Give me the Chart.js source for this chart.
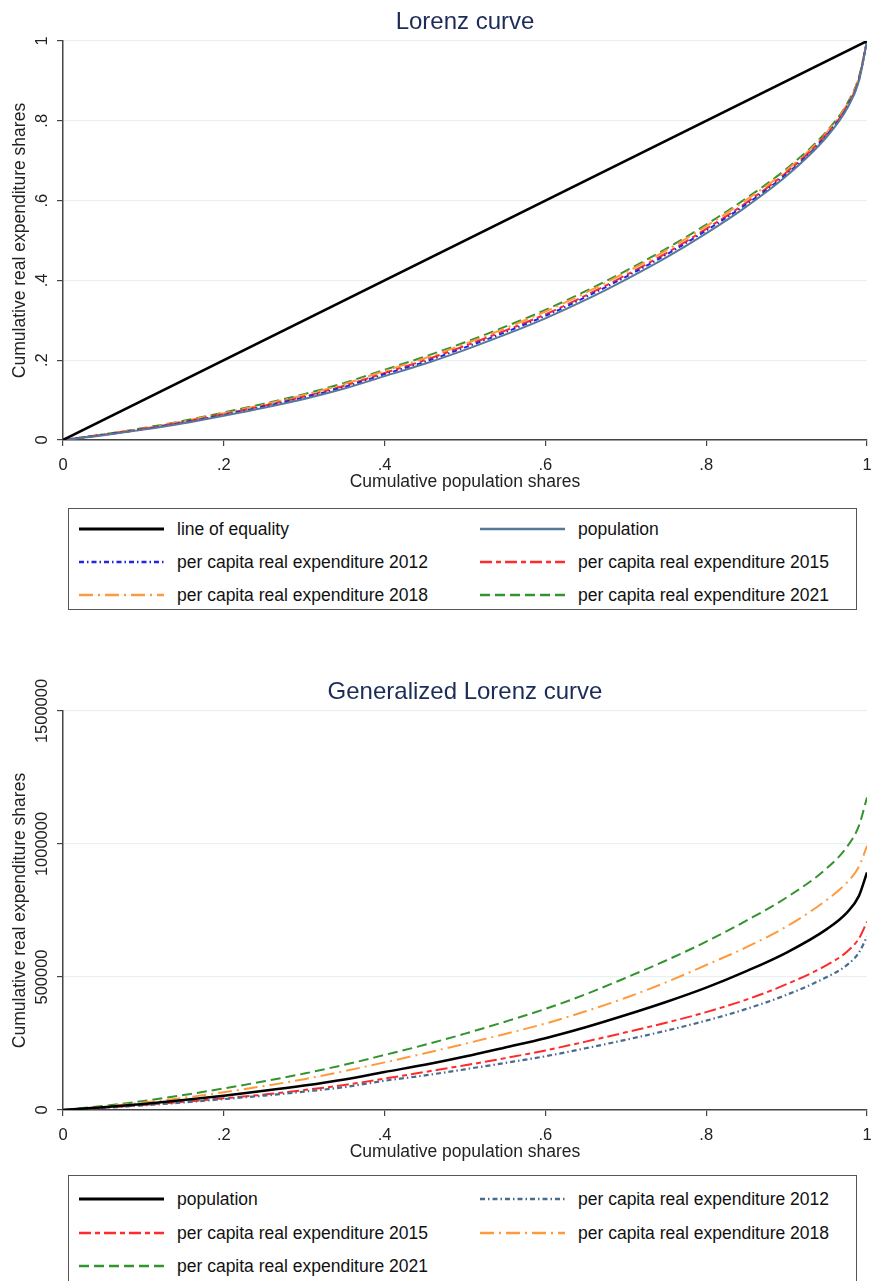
<!DOCTYPE html>
<html>
<head>
<meta charset="utf-8">
<script src="https://cdn.jsdelivr.net/npm/chart.js@4.4.1/dist/chart.umd.min.js"></script>
<style>
body { margin: 0; background: #fff; font-family: "Liberation Sans", Arial, sans-serif; }
#page { position: relative; width: 874px; height: 1281px; overflow: hidden; }
canvas { position: absolute; left: 0; }
.legend { position: absolute; left: 68px; width: 789px; box-sizing: border-box; border: 1.5px solid #555; background: #fff; }
.item { position: absolute; display: flex; align-items: center; height: 20px; font-size: 17.5px; color: #111; white-space: nowrap; }
.item svg { margin-right: 13px; }
</style>
</head>
<body>
<div id="page">
  <canvas id="lorenz" width="874" height="497" style="top:0"></canvas>
  <div class="legend" id="legend1" style="top:508px;height:102px"></div>
  <canvas id="glorenz" width="874" height="497" style="top:670px"></canvas>
  <div class="legend" id="legend2" style="top:1175px;height:120px"></div>
</div>
<script>
// cumulative population shares (x)
const shares = [0, .05, .1, .15, .2, .25, .3, .35, .4, .45, .5, .55, .6, .65, .7, .75, .8, .85, .9, .95, .975, .99, 1];

// Lorenz curve (shares of total)
const equalityX = [0, 1];
const equalityY = [0, 1];
const lzPopulation = [0, .012, .026, .042, .061, .081, .103, .129, .160, .191, .226, .264, .305, .351, .402, .457, .518, .585, .662, .760, .830, .900, 1];
const lz2012 = [0, .013, .027, .044, .063, .084, .107, .133, .165, .196, .232, .270, .311, .358, .409, .464, .525, .591, .667, .764, .834, .903, 1];
const lz2015 = [0, .013, .028, .045, .065, .086, .109, .136, .168, .200, .236, .274, .315, .362, .413, .468, .529, .595, .671, .767, .836, .905, 1];
const lz2018 = [0, .014, .029, .047, .067, .089, .113, .140, .173, .205, .241, .280, .322, .369, .420, .475, .536, .602, .676, .771, .840, .908, 1];
const lz2021 = [0, .014, .030, .048, .069, .091, .115, .143, .176, .209, .245, .284, .326, .373, .424, .479, .540, .606, .680, .774, .842, .910, 1];

// Generalized Lorenz curve
const glPopulation = [0, 10500, 23000, 37500, 54000, 72000, 92000, 115000, 143000, 170000, 201000, 235000, 270000, 311000, 357000, 406000, 460000, 522000, 592000, 680000, 742000, 805000, 893000];
const gl2012 = [0, 7800, 17500, 28500, 41000, 54000, 69000, 86000, 110000, 130000, 153000, 177000, 202000, 232000, 264000, 298000, 336000, 380000, 433000, 500000, 545000, 592000, 652000];
const gl2015 = [0, 8500, 19000, 31000, 44000, 58000, 75000, 94000, 118000, 143000, 168000, 195000, 224000, 257000, 292000, 328000, 368000, 415000, 473000, 545000, 595000, 645000, 708000];
const gl2018 = [0, 12500, 28000, 46000, 67000, 90000, 116000, 146000, 179000, 213000, 249000, 286000, 325000, 371000, 422000, 480000, 545000, 612000, 690000, 790000, 855000, 915000, 993000];
const gl2021 = [0, 15000, 34000, 56000, 81000, 108000, 137000, 170000, 207000, 245000, 287000, 332000, 380000, 435000, 497000, 562000, 633000, 712000, 799000, 909000, 989000, 1069000, 1175000];

// ticks
const xTicks = [0, .2, .4, .6, .8, 1];
const xTickLabels = ['0', '.2', '.4', '.6', '.8', '1'];
const lzTicks = [0, .2, .4, .6, .8, 1];
const lzTickLabels = ['0', '.2', '.4', '.6', '.8', '1'];
const glTicks = [0, 500000, 1000000, 1500000];
const glTickLabels = ['0', '500000', '1000000', '1500000'];

const FONT = '"Liberation Sans", Arial, sans-serif';
const AXIS = '#444';

const pts = (xs, ys) => ys.map((y, i) => ({ x: xs[i], y: y }));

function line(label, xs, ys, color, dash, width) {
    return {
        label: label,
        data: pts(xs, ys),
        borderColor: color,
        borderDash: dash || [],
        borderWidth: width || 2,
        pointRadius: 0,
        fill: false,
        cubicInterpolationMode: 'monotone'
    };
}

// stata draws y labels turned on their side
const sideTicks = {
    id: 'sideTicks',
    afterDraw(chart, args, opts) {
        const scale = chart.scales.y;
        const ctx = chart.ctx;
        ctx.save();
        ctx.font = '16.5px ' + FONT;
        ctx.fillStyle = '#222';
        ctx.textAlign = 'center';
        ctx.textBaseline = 'middle';
        opts.values.forEach((v, i) => {
            ctx.save();
            ctx.translate(opts.x, scale.getPixelForValue(v));
            ctx.rotate(-Math.PI / 2);
            ctx.fillText(opts.labels[i], 0, 0);
            ctx.restore();
        });
        ctx.restore();
    }
};

function options(title, yMax, yTicks, yLabels) {
    return {
        responsive: false,
        animation: false,
        layout: { padding: { left: 0, right: 7, top: 0, bottom: 0 } },
        plugins: {
            legend: { display: false },
            tooltip: { enabled: false },
            title: {
                display: true,
                fullSize: false,
                text: title,
                color: '#1c2b58',
                font: { family: FONT, size: 24, weight: 'normal', lineHeight: 1 },
                padding: { top: 10, bottom: 7 }
            },
            sideTicks: { values: yTicks, labels: yLabels, x: 42 }
        },
        scales: {
            x: {
                type: 'linear',
                min: 0,
                max: 1,
                afterBuildTicks: s => { s.ticks = xTicks.map(v => ({ value: v })); },
                afterFit: s => {
                    s.height = 57;
                    s.paddingLeft = 0;
                    s.paddingRight = 0;
                },
                ticks: {
                    color: '#222',
                    padding: 10,
                    maxRotation: 0,
                    font: { family: FONT, size: 16.5 },
                    callback: (v, i) => xTickLabels[i]
                },
                grid: { drawOnChartArea: false, tickColor: AXIS, tickLength: 6, lineWidth: 1.2 },
                border: { color: AXIS, width: 1.5 },
                title: {
                    display: true,
                    text: 'Cumulative population shares',
                    color: '#222',
                    font: { family: FONT, size: 17.5 },
                    padding: { top: 1, bottom: 4 }
                }
            },
            y: {
                type: 'linear',
                min: 0,
                max: yMax,
                afterBuildTicks: s => { s.ticks = yTicks.map(v => ({ value: v })); },
                afterFit: s => { s.width = 63; },
                ticks: { display: false },
                grid: { color: '#eaf1f3', tickColor: AXIS, tickLength: 6, lineWidth: 1.2 },
                border: { color: AXIS, width: 1.5 },
                title: {
                    display: true,
                    text: 'Cumulative real expenditure shares',
                    color: '#222',
                    font: { family: FONT, size: 17.5 },
                    padding: { top: 10, bottom: 0 }
                }
            }
        }
    };
}

const lorenz = new Chart(document.getElementById('lorenz'), {
    type: 'line',
    data: {
        datasets: [
            line('line of equality', equalityX, equalityY, '#000000', [], 2.5),
            line('population', shares, lzPopulation, '#56799a', [], 2),
            line('per capita real expenditure 2012', shares, lz2012, '#2424e6', [5, 3, 1.5, 3], 2),
            line('per capita real expenditure 2015', shares, lz2015, '#ff2a2a', [12, 4, 5, 4], 2),
            line('per capita real expenditure 2018', shares, lz2018, '#ff9a3c', [14, 5, 2, 5], 2),
            line('per capita real expenditure 2021', shares, lz2021, '#33932f', [10, 5], 2)
        ]
    },
    options: options('Lorenz curve', 1, lzTicks, lzTickLabels),
    plugins: [sideTicks]
});

const glorenz = new Chart(document.getElementById('glorenz'), {
    type: 'line',
    data: {
        datasets: [
            line('population', shares, glPopulation, '#000000', [], 2.5),
            line('per capita real expenditure 2012', shares, gl2012, '#4a6c8c', [5, 3, 1.5, 3], 2.2),
            line('per capita real expenditure 2015', shares, gl2015, '#ff2a2a', [12, 4, 5, 4], 2),
            line('per capita real expenditure 2018', shares, gl2018, '#ff9a3c', [14, 5, 2, 5], 2),
            line('per capita real expenditure 2021', shares, gl2021, '#33932f', [10, 5], 2)
        ]
    },
    options: options('Generalized Lorenz curve', 1500000, glTicks, glTickLabels),
    plugins: [sideTicks]
});

// boxed two-column legend under each chart
function buildLegend(chart, el, rowTops) {
    chart.data.datasets.forEach((ds, i) => {
        const item = document.createElement('div');
        item.className = 'item';
        item.style.left = (i % 2 ? 411 : 10) + 'px';
        item.style.top = rowTops[Math.floor(i / 2)] + 'px';
        item.innerHTML = '<svg width="85" height="6"><line x1="0" y1="3" x2="85" y2="3" stroke="' + ds.borderColor +
            '" stroke-width="' + (ds.borderWidth + 0.5) + '" stroke-dasharray="' + ds.borderDash.join(' ') + '"/></svg>' +
            '<span>' + ds.label + '</span>';
        el.appendChild(item);
    });
}

buildLegend(lorenz, document.getElementById('legend1'), [10, 43, 76]);
buildLegend(glorenz, document.getElementById('legend2'), [13, 47, 80]);
</script>
</body>
</html>
